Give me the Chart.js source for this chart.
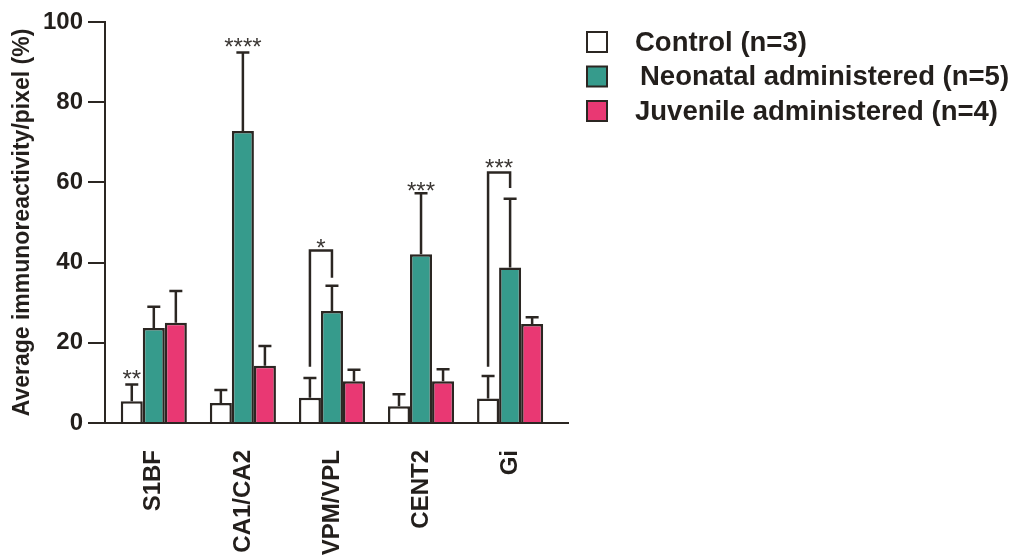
<!DOCTYPE html>
<html>
<head>
<meta charset="utf-8">
<script src="https://cdn.jsdelivr.net/npm/chart.js@4.4.1/dist/chart.umd.min.js"></script>
<style>
  html, body { margin: 0; padding: 0; background: #fff; }
  #wrap { width: 1016px; height: 557px; }
</style>
</head>
<body>
<div id="wrap"><canvas id="chart"></canvas></div>
<script>
const regions = ["S1BF", "CA1/CA2", "VPM/VPL", "CENT2", "Gi"];
const groupNames = ["Control (n=3)", "Neonatal administered (n=5)", "Juvenile administered (n=4)"];

const controlMean = [5.4, 5.0, 6.3, 4.2, 6.1];
const controlSd = [4.2, 3.2, 4.9, 3.0, 5.6];
const neonatalMean = [23.7, 72.8, 27.9, 42.1, 38.8];
const neonatalSd = [5.3, 19.6, 6.3, 15.2, 17.1];
const juvenileMean = [25.0, 14.3, 10.4, 10.4, 24.7];
const juvenileSd = [7.9, 4.9, 2.9, 3.0, 1.7];

const yTicks = [0, 20, 40, 60, 80, 100];

// significance marks: text, bar it sits over, y of the stars (data units)
const sigText = ["**", "****", "*", "***", "***"];
const sigBar = [0, 1, 0.5, 1, 0.5];
const sigY = [12.5, 95.2, 45.0, 59.3, 64.9];
// brackets (control -> neonatal): [left foot, top, right foot]
const sigBracket = [null, null, [14.0, 43.0, 36.2], null, [14.0, 62.5, 58.6]];

const INK = "#2b2622";
const colors = ["#ffffff", "#369b8c", "#e93873"];

const means = [controlMean, neonatalMean, juvenileMean];
const sds = [controlSd, neonatalSd, juvenileSd];

const datasets = means.map((m, i) => ({
  label: groupNames[i],
  data: m.map((v, j) => ({ x: j, y: v })),
  backgroundColor: colors[i],
  borderColor: INK,
  borderWidth: 2.5,
  categoryPercentage: 0.742,
  barPercentage: 1.0
}));

// error bars (upper only)
const errorBars = {
  id: "errorBars",
  afterDatasetsDraw(chart) {
    const { ctx, scales: { y } } = chart;
    ctx.save();
    ctx.strokeStyle = INK;
    ctx.lineWidth = 2.5;
    datasets.forEach((ds, i) => {
      const meta = chart.getDatasetMeta(i);
      meta.data.forEach((bar, j) => {
        const top = y.getPixelForValue(means[i][j] + sds[i][j]);
        ctx.beginPath();
        ctx.moveTo(bar.x, bar.y);
        ctx.lineTo(bar.x, top);
        ctx.moveTo(bar.x - 6.5, top);
        ctx.lineTo(bar.x + 6.5, top);
        ctx.stroke();
      });
    });
    ctx.restore();
  }
};

// stars and brackets
const sigMarks = {
  id: "sigMarks",
  afterDatasetsDraw(chart) {
    const { ctx, scales: { y } } = chart;
    const c0 = chart.getDatasetMeta(0).data;
    const c1 = chart.getDatasetMeta(1).data;
    ctx.save();
    ctx.strokeStyle = INK;
    ctx.lineWidth = 2.5;
    regions.forEach((r, j) => {
      const xa = c0[j].x, xb = c1[j].x;
      const b = sigBracket[j];
      if (b) {
        ctx.beginPath();
        ctx.moveTo(xa, y.getPixelForValue(b[0]));
        ctx.lineTo(xa, y.getPixelForValue(b[1]));
        ctx.lineTo(xb, y.getPixelForValue(b[1]));
        ctx.lineTo(xb, y.getPixelForValue(b[2]));
        ctx.stroke();
      }
      const sx = xa + (xb - xa) * sigBar[j];
      ctx.fillStyle = "#3a3633";
      ctx.font = "24px 'Liberation Sans', Arial, sans-serif";
      ctx.textAlign = "center";
      ctx.textBaseline = "alphabetic";
      ctx.fillText(sigText[j], sx, y.getPixelForValue(sigY[j]) + 24 * 0.57);
    });
    ctx.restore();
  }
};

// legend on the right
const sideLegend = {
  id: "sideLegend",
  afterDraw(chart) {
    const { ctx } = chart;
    const rows = [42, 76.5, 111];
    ctx.save();
    ctx.font = "bold 27.5px 'Liberation Sans', Arial, sans-serif";
    ctx.textBaseline = "middle";
    ctx.textAlign = "left";
    groupNames.forEach((name, i) => {
      ctx.fillStyle = colors[i];
      ctx.fillRect(587, rows[i] - 10, 20, 20);
      ctx.strokeStyle = INK;
      ctx.lineWidth = 2;
      ctx.strokeRect(587, rows[i] - 10, 20, 20);
      ctx.fillStyle = "#231f1c";
      ctx.fillText(name, i === 1 ? 640 : 635, rows[i] + 1);
    });
    ctx.restore();
  }
};

new Chart(document.getElementById("chart"), {
  type: "bar",
  data: { datasets },
  options: {
    responsive: true,
    maintainAspectRatio: false,
    animation: false,
    layout: { padding: { top: 22, right: 448, bottom: 0, left: 0 } },
    plugins: { legend: { display: false }, tooltip: { enabled: false } },
    scales: {
      x: {
        type: "linear",
        offset: false,
        min: -0.548,
        max: 4.65,
        afterFit(scale) { scale.height = 134; },
        grid: { display: false },
        border: { display: true, color: INK, width: 2, z: 1 },
        ticks: {
          stepSize: 1,
          includeBounds: false,
          autoSkip: false,
          minRotation: 90,
          maxRotation: 90,
          padding: 19,
          color: "#231f1c",
          font: { family: "'Liberation Sans', Arial, sans-serif", size: 24, weight: "bold" },
          callback: v => regions[v] ?? ""
        }
      },
      y: {
        min: 0,
        max: 100,
        afterFit(scale) { scale.width = 105; },
        afterBuildTicks(scale) { scale.ticks = yTicks.map(v => ({ value: v })); },
        grid: { drawOnChartArea: false, drawTicks: true, tickLength: 17, color: INK, lineWidth: 2 },
        border: { display: true, color: INK, width: 2, z: 1 },
        ticks: {
          padding: 5,
          color: "#231f1c",
          font: { family: "'Liberation Sans', Arial, sans-serif", size: 24, weight: "bold" }
        },
        title: {
          display: true,
          text: "Average immunoreactivity/pixel (%)",
          color: "#231f1c",
          padding: { top: 9, bottom: 0 },
          font: { family: "'Liberation Sans', Arial, sans-serif", size: 23, weight: "bold" }
        }
      }
    }
  },
  plugins: [errorBars, sigMarks, sideLegend]
});
</script>
</body>
</html>
